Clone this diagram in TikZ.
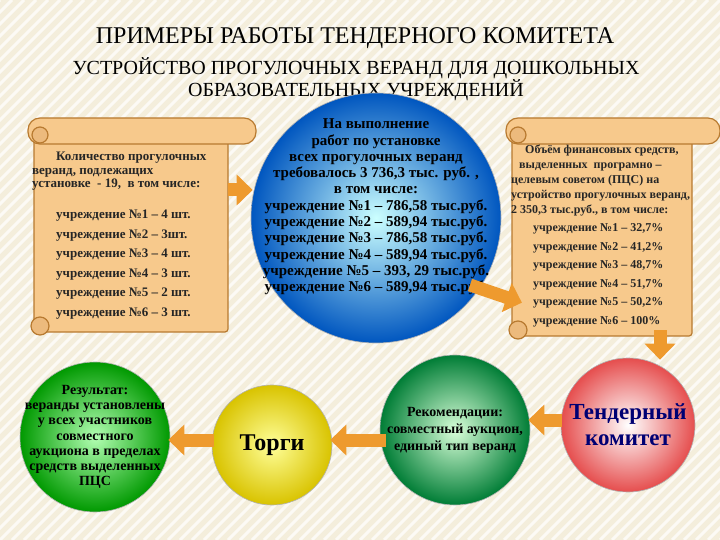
\documentclass[tikz,border=0pt]{standalone}
\usepackage{fontspec}
\setmainfont{Liberation Serif}
\usetikzlibrary{arrows.meta,shadings}
\definecolor{bg}{HTML}{F4EEDC}
\definecolor{scr}{HTML}{F7C98C}
\definecolor{scrd}{HTML}{B87A30}
\definecolor{arr}{HTML}{EE9A2E}
\tikzset{
  scrolltext/.style={align=left, text=black!85, inner sep=0pt},
  ball/.style={circle, draw=black!30, line width=0.6pt, inner sep=0pt},
  btext/.style={align=center, text=black, inner sep=0pt},
  barr/.style={draw=arr, line width=13pt, -{Triangle[length=16pt,width=30pt]}, shorten >=-2pt},
}
\newcommand{\myscroll}[4]{%
  \fill[scr, draw=scrd, line width=1.2pt, rounded corners=3pt] (#1+6,#2-12) rectangle (#3-28,#4);
  \fill[scr, draw=scrd, line width=1.2pt, rounded corners=12pt] (#1,#2) rectangle (#3,#2-26);
  \draw[scrd, line width=1.2pt, fill=scr!80!brown] (#1+12,#2-17) circle (8pt);
  \draw[scrd, line width=1.2pt, fill=scr!80!brown] (#1+12,#4+6) circle (9pt);
}
\begin{document}
\begin{tikzpicture}[x=1pt,y=1pt]
\useasboundingbox (0,0) rectangle (720,-540);
\fill[bg] (0,0) rectangle (720,-540);
\foreach \i in {0,12,...,1260} \draw[white!70!bg, line width=3pt] (\i-540,-540) -- (\i,0);

\node (t1) at (355,-38) {\fontsize{24}{26}\selectfont ПРИМЕРЫ РАБОТЫ ТЕНДЕРНОГО КОМИТЕТА};
\node[align=center] (t2) at (356,-79) {\fontsize{20}{22}\selectfont УСТРОЙСТВО ПРОГУЛОЧНЫХ ВЕРАНД ДЛЯ ДОШКОЛЬНЫХ\\ \fontsize{20}{22}\selectfont ОБРАЗОВАТЕЛЬНЫХ УЧРЕЖДЕНИЙ};

\myscroll{28}{-118}{256}{-332}
\myscroll{506}{-118}{720}{-336}

\node[scrolltext, anchor=north west, font=\fontsize{13}{13.6}\selectfont\bfseries] (sL) at (32,-152) {\hspace*{24pt}Количество прогулочных\\веранд, подлежащих\\установке \ - 19, \ в том числе:\\[17pt]
\hspace*{24pt}учреждение №1 – 4 шт.\\[6pt]
\hspace*{24pt}учреждение №2 – 3шт.\\[6pt]
\hspace*{24pt}учреждение №3 – 4 шт.\\[6pt]
\hspace*{24pt}учреждение №4 – 3 шт.\\[6pt]
\hspace*{24pt}учреждение №5 – 2 шт.\\[6pt]
\hspace*{24pt}учреждение №6 – 3 шт.};

\node[scrolltext, anchor=north west, font=\fontsize{12}{15}\selectfont\bfseries] (sR) at (511,-145) {\hspace*{14pt}Объём финансовых средств,\\\hspace*{8pt}выделенных \ програмно –\\целевым советом (ПЦС) на\\устройство прогулочных веранд,\\2 350,3 тыс.руб., в том числе:\\[3pt]
\hspace*{22pt}учреждение №1 – 32,7\%\\[3.5pt]
\hspace*{22pt}учреждение №2 – 41,2\%\\[3.5pt]
\hspace*{22pt}учреждение №3 – 48,7\%\\[3.5pt]
\hspace*{22pt}учреждение №4 – 51,7\%\\[3.5pt]
\hspace*{22pt}учреждение №5 – 50,2\%\\[3.5pt]
\hspace*{22pt}учреждение №6 – 100\%};

\node[ball, inner color=cyan!20!white, outer color=blue!55!cyan!75!black, minimum size=250pt] (blue) at (376,-218) {};
\node[btext, font=\fontsize{15}{16.3}\selectfont\bfseries] (blueT) at (376,-207) {На выполнение\\работ по установке\\всех прогулочных веранд\\требовалось 3 736,3 тыс. руб. ,\\в том числе:\\учреждение №1 – 786,58 тыс.руб.\\учреждение №2 – 589,94 тыс.руб.\\учреждение №3 – 786,58 тыс.руб.\\учреждение №4 – 589,94 тыс.руб.\\учреждение №5 – 393, 29 тыс.руб.\\учреждение №6 – 589,94 тыс.руб.};

\node[ball, inner color=green!30!white, outer color=green!60!black, minimum size=150pt] (res) at (95,-437) {};
\node[btext, font=\fontsize{14}{15.3}\selectfont\bfseries] (resT) at (res) {Результат:\\веранды установлены\\у всех участников\\совместного\\аукциона в пределах\\средств выделенных\\ПЦС};
\node[ball, inner color=yellow!40!white, outer color=yellow!80!orange!85!black, minimum size=120pt] (torgi) at (272,-445) {};
\node[btext, font=\fontsize{24}{26}\selectfont\bfseries] (torgiT) at (torgi) {Торги};
\node[ball, inner color=green!15!white, outer color=teal!60!green!70!black, minimum size=150pt] (rec) at (455,-430) {};
\node[btext, font=\fontsize{14}{17}\selectfont\bfseries] (recT) at (rec) {Рекомендации:\\совместный аукцион,\\единый тип веранд};
\node[ball, inner color=white, outer color=red!55!pink!90!black, minimum size=134pt] (tk) at (628,-425) {};
\node[btext, font=\fontsize{23}{26}\selectfont\bfseries, text=blue!45!black] (tkT) at (628,-425) {Тендерный\\комитет};

\coordinate (c1) at (228,-190);
\coordinate (c2) at (470,-285);
\coordinate (c3) at (660,-330);
\coordinate (c4) at (562,-420);
\coordinate (c5) at (386,-440);
\coordinate (c6) at (214,-440);
\draw[barr] (c1) -- (blue.west |- c1);
\draw[barr] (c2) -- (520,-302);
\draw[barr] (c3) -- (tk.north -| c3);
\draw[barr] (c4) -- (rec.east |- c4);
\draw[barr] (c5) -- (torgi.east |- c5);
\draw[barr] (c6) -- (res.east |- c6);
\end{tikzpicture}
\end{document}
